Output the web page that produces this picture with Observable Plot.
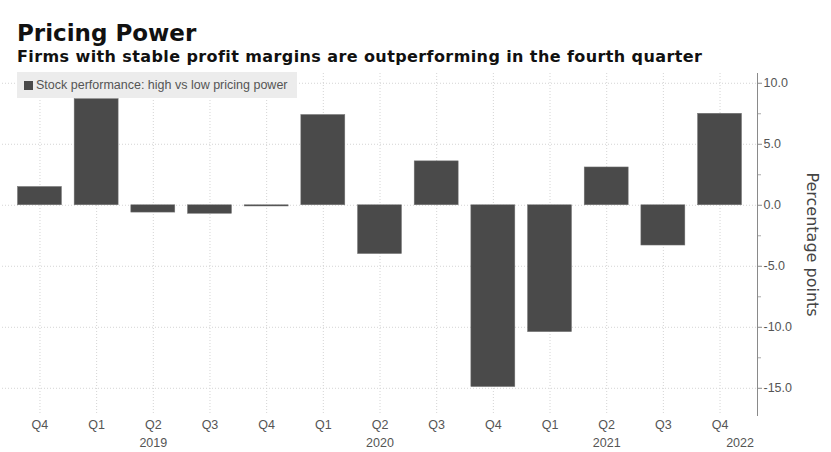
<!DOCTYPE html>
<html><head><meta charset="utf-8">
<script src="https://cdn.jsdelivr.net/npm/d3@7"></script>
<script src="https://cdn.jsdelivr.net/npm/@observablehq/plot@0.6"></script>
<style>
body{margin:0;background:#fff;}
#wrap{position:relative;width:831px;height:452px;overflow:hidden;background:#fff}
#head{height:68px;position:relative}
#title{position:absolute;left:17px;top:20px;font:bold 23px "DejaVu Sans",sans-serif;color:#111;white-space:nowrap}
#sub{position:absolute;left:17px;top:47px;font:bold 16px "DejaVu Sans",sans-serif;letter-spacing:0.4px;color:#111;white-space:nowrap}
#legend{position:absolute;left:17px;top:72px;width:280px;height:26px;background:#ececec;z-index:2;
  font:12.5px "Liberation Sans",sans-serif;color:#555;display:flex;align-items:center;white-space:nowrap}
#legend .sw{display:inline-block;width:9px;height:9px;background:#4a4a4a;margin:0 3px 0 7px}
#chart svg{display:block}
</style></head>
<body>
<div id="wrap">
  <div id="head">
    <div id="title">Pricing Power</div>
    <div id="sub">Firms with stable profit margins are outperforming in the fourth quarter</div>
  </div>
  <div id="legend"><span class="sw"></span>Stock performance: high vs low pricing power</div>
  <div id="chart"></div>
</div>
<script>
const periods = ["2018-Q4","2019-Q1","2019-Q2","2019-Q3","2019-Q4","2020-Q1","2020-Q2","2020-Q3","2020-Q4","2021-Q1","2021-Q2","2021-Q3","2021-Q4"];
const values = [1.5, 8.7, -0.6, -0.7, -0.1, 7.4, -4.0, 3.6, -14.9, -10.4, 3.1, -3.3, 7.5];
const yTicks = [10, 5, 0, -5, -10, -15];
const yMinorTicks = [7.5, 2.5, -2.5, -7.5, -12.5];
const yearLabels = ["2019", "2020", "2021"];
const yearAnchors = ["2019-Q2", "2020-Q2", "2021-Q2"];
const lastYearLabel = "2022";
const lastYearAnchor = "2021-Q4";

const data = periods.map((p, i) => ({period: p, value: values[i]}));
const font = '"Liberation Sans",sans-serif';

const chart = Plot.plot({
  width: 831, height: 384,
  marginLeft: 2, marginRight: 74, marginTop: 5, marginBottom: 37,
  style: {fontFamily: font, fontSize: "12px", color: "#555", background: "#fff"},
  x: {domain: periods, paddingInner: 0.224, paddingOuter: 0.273, round: false, axis: null},
  y: {domain: [-17.23, 10.8], axis: null},
  marks: [
    Plot.ruleX(periods, {x: d => d, stroke: "#d4d4d4", strokeDasharray: "1,2"}),
    Plot.ruleY(yTicks, {y: d => d, stroke: "#d4d4d4", strokeDasharray: "1,2"}),
    Plot.barY(data, {x: "period", y: "value", fill: "#4a4a4a", stroke: "#777", strokeWidth: 0.5}),
    Plot.frame({anchor: "right", stroke: "#8a8a8a"}),
    Plot.axisY(yTicks, {anchor: "right", label: null, tickSize: 4, tickPadding: 2, stroke: "#8a8a8a", fill: "#555",
      tickFormat: d => d3.format(".1f")(d).replace("−", "-"), fontSize: 12.5, fontFamily: font}),
    Plot.axisY(yMinorTicks, {anchor: "right", label: null, tickSize: 3, stroke: "#aaa", tickFormat: () => ""}),
    Plot.axisX({label: null, tickSize: 0, tickPadding: 5, tickFormat: d => d.slice(5), fill: "#555", fontSize: 12.5, fontFamily: font}),
    Plot.text(yearAnchors, {x: d => d, text: (d, i) => yearLabels[i], frameAnchor: "bottom", dy: 27, lineAnchor: "middle", fill: "#555", fontSize: 12.5}),
    Plot.text([lastYearAnchor], {x: d => d, text: [lastYearLabel], frameAnchor: "bottom", dx: 20, dy: 27, lineAnchor: "middle", fill: "#555", fontSize: 12.5}),
    Plot.text(["Percentage points"], {frameAnchor: "right", textAnchor: "middle", lineAnchor: "middle", text: d => d, rotate: 90, dx: 55, fill: "#444", fontSize: 16, fontFamily: "DejaVu Sans, sans-serif"})
  ]
});
document.getElementById("chart").appendChild(chart);
</script>
</body></html>
